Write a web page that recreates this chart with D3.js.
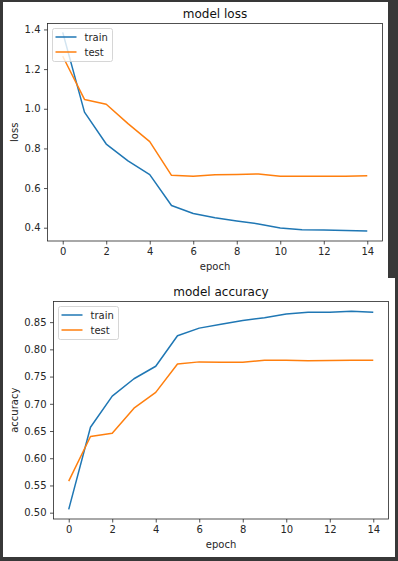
<!DOCTYPE html>
<html>
<head>
<meta charset="utf-8">
<script src="https://cdn.jsdelivr.net/npm/d3@7"></script>
<style>
  body { margin: 0; background: #383838; }
  svg { display: block; font-family: 'DejaVu Sans', sans-serif; }
</style>
</head>
<body>
<div id="chart"></div>
<script>
// Data
const epochs = d3.range(0, 15);
const lossTrain = [1.385, 0.983, 0.822, 0.737, 0.668, 0.512, 0.472, 0.450, 0.434, 0.419, 0.399, 0.390, 0.389, 0.386, 0.383];
const lossTest = [1.265, 1.047, 1.023, 0.925, 0.834, 0.664, 0.659, 0.667, 0.669, 0.671, 0.659, 0.660, 0.660, 0.660, 0.662];
const accTrain = [0.506, 0.657, 0.714, 0.746, 0.769, 0.825, 0.839, 0.846, 0.853, 0.858, 0.865, 0.868, 0.868, 0.870, 0.868];
const accTest = [0.558, 0.640, 0.646, 0.692, 0.721, 0.773, 0.777, 0.7765, 0.7765, 0.780, 0.780, 0.779, 0.7795, 0.780, 0.780];
const xTicks = [0, 2, 4, 6, 8, 10, 12, 14];
const lossTicks = [0.4, 0.6, 0.8, 1.0, 1.2, 1.4];
const accTicks = [0.50, 0.55, 0.60, 0.65, 0.70, 0.75, 0.80, 0.85];
const seriesNames = ['train', 'test'];
const colours = ['#1f77b4', '#ff7f0e'];

const width = 398;
const height = 561;

const svg = d3.select('#chart')
  .append('svg')
  .attr('width', width)
  .attr('height', height);

// Dark page background and the two white figure panels
svg.append('rect').attr('width', width).attr('height', height).attr('fill', '#383838');
svg.append('rect').attr('x', 3).attr('y', 2).attr('width', 385).attr('height', 277).attr('fill', 'white');
svg.append('rect').attr('x', 3).attr('y', 278).attr('width', 392).attr('height', 279).attr('fill', 'white');

function drawChart(opts) {
  const { box, title, yLabel, yDomain, yTicks, yFormat, series, legend } = opts;
  const g = svg.append('g');

  const x = d3.scaleLinear().domain([-0.7, 14.7]).range([box.left, box.right]);
  const y = d3.scaleLinear().domain(yDomain).range([box.bottom, box.top]);

  // Axes
  const xAxis = g.append('g')
    .attr('transform', `translate(0,${box.bottom})`)
    .call(d3.axisBottom(x).tickValues(xTicks).tickSize(3.5).tickPadding(3.5).tickFormat(d3.format('d')));
  const yAxis = g.append('g')
    .attr('transform', `translate(${box.left},0)`)
    .call(d3.axisLeft(y).tickValues(yTicks).tickSize(3.5).tickPadding(3.5).tickFormat(yFormat));
  [xAxis, yAxis].forEach((a) => {
    a.select('.domain').remove();
    a.selectAll('text').attr('font-size', 10).attr('fill', '#262626').style('font-family', 'DejaVu Sans, sans-serif');
    a.selectAll('line').attr('stroke', '#262626').attr('stroke-width', 0.8);
  });

  // Lines
  const line = d3.line().x((d, i) => x(epochs[i])).y((d) => y(d));
  series.forEach((s, i) => {
    g.append('path')
      .datum(s)
      .attr('fill', 'none')
      .attr('stroke', colours[i])
      .attr('stroke-width', 1.5)
      .attr('stroke-linejoin', 'round')
      .attr('d', line);
  });

  // Frame
  g.append('rect')
    .attr('x', box.left)
    .attr('y', box.top)
    .attr('width', box.right - box.left)
    .attr('height', box.bottom - box.top)
    .attr('fill', 'none')
    .attr('stroke', '#262626')
    .attr('stroke-width', 0.8);

  // Title and axis labels
  g.append('text')
    .attr('x', (box.left + box.right) / 2)
    .attr('y', box.top - 5.5)
    .attr('text-anchor', 'middle')
    .attr('font-size', 12)
    .attr('fill', '#111')
    .text(title);
  g.append('text')
    .attr('x', (box.left + box.right) / 2)
    .attr('y', box.bottom + 29)
    .attr('text-anchor', 'middle')
    .attr('font-size', 10)
    .attr('fill', '#262626')
    .text('epoch');
  g.append('text')
    .attr('transform', `translate(${opts.yLabelX},${(box.top + box.bottom) / 2}) rotate(-90)`)
    .attr('text-anchor', 'middle')
    .attr('font-size', 10)
    .attr('fill', '#262626')
    .text(yLabel);

  // Legend
  const lg = g.append('g').attr('transform', `translate(${legend.x},${legend.y})`);
  lg.append('rect')
    .attr('width', 60)
    .attr('height', 33)
    .attr('rx', 2)
    .attr('fill', 'white')
    .attr('fill-opacity', 0.8)
    .attr('stroke', '#cccccc')
    .attr('stroke-width', 0.8);
  seriesNames.forEach((name, i) => {
    const ly = 8.5 + i * 15;
    lg.append('line')
      .attr('x1', 3).attr('x2', 24)
      .attr('y1', ly).attr('y2', ly)
      .attr('stroke', colours[i])
      .attr('stroke-width', 1.5);
    lg.append('text')
      .attr('x', 32)
      .attr('y', ly + 3.6)
      .attr('font-size', 10)
      .attr('fill', '#262626')
      .text(name);
  });
}

drawChart({
  box: { left: 47.5, right: 382.5, top: 23.5, bottom: 241 },
  title: 'model loss',
  yLabel: 'loss',
  yLabelX: 18,
  yDomain: [0.333, 1.43],
  yTicks: lossTicks,
  yFormat: d3.format('.1f'),
  series: [lossTrain, lossTest],
  legend: { x: 52.5, y: 28.5 },
});

drawChart({
  box: { left: 53.5, right: 388.5, top: 301.5, bottom: 519 },
  title: 'model accuracy',
  yLabel: 'accuracy',
  yLabelX: 18,
  yDomain: [0.4884, 0.8879],
  yTicks: accTicks,
  yFormat: d3.format('.2f'),
  series: [accTrain, accTest],
  legend: { x: 58.5, y: 306.5 },
});
</script>
</body>
</html>
